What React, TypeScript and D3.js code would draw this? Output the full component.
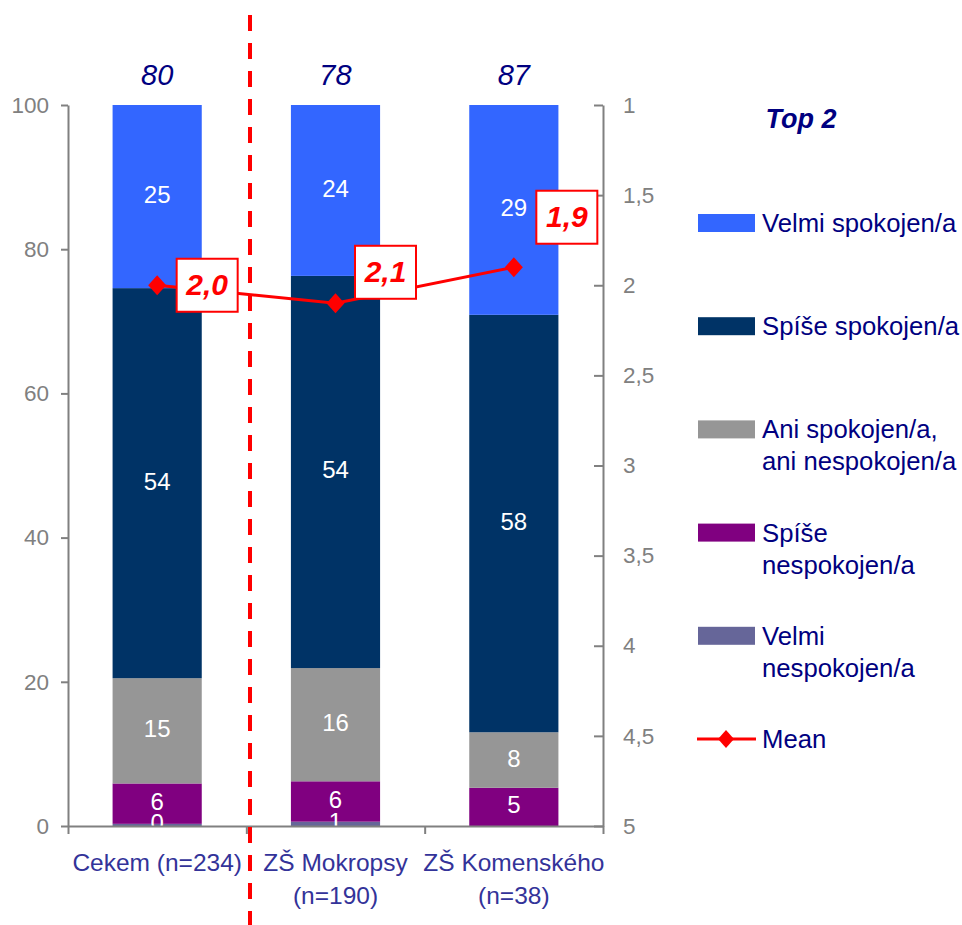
import React, { useEffect, useRef } from 'react';
import * as d3 from 'd3';

const WIDTH = 962;
const HEIGHT = 925;
const FONT = '"Liberation Sans", Arial, sans-serif';

// plot frame
const X0 = 68;
const X1 = 603;
const Y_TOP = 105;
const Y_BOT = 826;

// categories (one entry per line of the axis label)
const categories = [['Cekem (n=234)'], ['ZŠ Mokropsy', '(n=190)'], ['ZŠ Komenského', '(n=38)']];

// series, bottom of the stack first
const velmiNespokojen = [0.3, 0.6, 0];
const spiseNespokojen = [5.6, 5.6, 5.3];
const aniAni = [14.6, 15.7, 7.7];
const spiseSpokojen = [54.1, 54.4, 57.9];
const velmiSpokojen = [25.4, 23.7, 29.1];

const top2 = [80, 78, 87];
const means = [2.0, 2.1, 1.9];

const leftTicks = [0, 20, 40, 60, 80, 100];
const rightTicks = [1, 1.5, 2, 2.5, 3, 3.5, 4, 4.5, 5];

const seriesKeys = ['vn', 'sn', 'an', 'ss', 'vs'];
const seriesValues = [velmiNespokojen, spiseNespokojen, aniAni, spiseSpokojen, velmiSpokojen];
const seriesColors = ['#666699', '#800080', '#969696', '#003366', '#3366FF'];
const seriesLegend = [
  ['Velmi', 'nespokojen/a'],
  ['Spíše', 'nespokojen/a'],
  ['Ani spokojen/a,', 'ani nespokojen/a'],
  ['Spíše spokojen/a'],
  ['Velmi spokojen/a'],
];

// where the mean value boxes sit, relative to their marker
const meanLabelShift = [
  [50, 0],
  [50, -31],
  [53, -50],
];

const fmt = (d: number | string) => String(d).replace('.', ',');

const App = () => {
  const $left = useRef<SVGGElement>(null);
  const $right = useRef<SVGGElement>(null);
  const $bottom = useRef<SVGGElement>(null);

  const x = d3
    .scaleBand<number>()
    .domain(d3.range(categories.length))
    .range([X0, X1])
    .paddingInner(0.5)
    .paddingOuter(0.25);
  const y = d3.scaleLinear().domain([0, 100]).range([Y_BOT, Y_TOP]);
  const yMean = d3.scaleLinear().domain([1, 5]).range([Y_TOP, Y_BOT]);
  const xEdge = d3.scaleLinear().domain([0, categories.length]).range([X0, X1]);
  const cx = (i: number) => (x(i) as number) + x.bandwidth() / 2;

  const rows = categories.map((c, i) => {
    const r: any = { i };
    seriesKeys.forEach((k, j) => (r[k] = seriesValues[j][i]));
    return r;
  });
  const stacked = d3.stack().keys(seriesKeys)(rows);

  const line = d3
    .line<number>()
    .x((d, i) => cx(i))
    .y((d) => yMean(d));

  useEffect(() => {
    const style = (g: any) => {
      g.selectAll('path, line').attr('stroke', '#808080').attr('stroke-width', 2);
      g.selectAll('text')
        .attr('fill', '#808080')
        .style('font-size', '22.5px')
        .style('font-family', FONT);
    };
    const l = d3.select($left.current);
    l.selectAll('*').remove();
    l.call(d3.axisLeft(y).tickValues(leftTicks).tickSize(7).tickSizeOuter(0).tickPadding(12) as any);
    style(l);

    const r = d3.select($right.current);
    r.selectAll('*').remove();
    r.call(
      d3
        .axisRight(yMean)
        .tickValues(rightTicks)
        .tickSize(-9)
        .tickSizeOuter(0)
        .tickPadding(20)
        .tickFormat((d: any) => fmt(d)) as any
    );
    style(r);

    const b = d3.select($bottom.current);
    b.selectAll('*').remove();
    b.call(
      d3
        .axisBottom(xEdge)
        .tickValues(d3.range(categories.length + 1))
        .tickSize(8)
        .tickSizeOuter(0)
        .tickFormat('' as any) as any
    );
    style(b);
  }, []);

  const legendY = (i: number) => 223 + i * 103.2;

  return (
    <svg
      width={WIDTH}
      height={HEIGHT}
      viewBox={`0 0 ${WIDTH} ${HEIGHT}`}
      style={{ position: 'absolute', left: 0, top: 0, background: '#fff' }}
      fontFamily={FONT}
    >
      <defs>
        <clipPath id="plot">
          <rect x={X0} y={Y_TOP} width={X1 - X0} height={Y_BOT - Y_TOP} />
        </clipPath>
      </defs>

      {/* bars */}
      {stacked.map((s, j) => (
        <g key={s.key} fill={seriesColors[j]}>
          {s.map((d, i) => (
            <rect key={i} x={x(i)} width={x.bandwidth()} y={y(d[1])} height={y(d[0]) - y(d[1])} />
          ))}
        </g>
      ))}

      {/* bar value labels */}
      <g clipPath="url(#plot)" fill="#fff" fontSize={24} textAnchor="middle">
        {stacked.map((s) =>
          s.map((d, i) => {
            const v = d[1] - d[0];
            if (v <= 0) return null;
            return (
              <text key={s.key + i} x={cx(i)} y={(y(d[0]) + y(d[1])) / 2 - 2} dominantBaseline="central">
                {Math.round(v)}
              </text>
            );
          })
        )}
      </g>

      <g ref={$left} transform={`translate(${X0},0)`} />
      <g ref={$right} transform={`translate(${X1},0)`} />
      <g ref={$bottom} transform={`translate(0,${Y_BOT})`} />

      {/* category labels */}
      <g fill="#333399" fontSize={24.5} textAnchor="middle">
        {categories.map((c, i) => (
          <text key={i} x={cx(i)} y={871}>
            {c.map((t, k) => (
              <tspan key={k} x={cx(i)} dy={k === 0 ? 0 : 33}>
                {t}
              </tspan>
            ))}
          </text>
        ))}
      </g>

      {/* top 2 values */}
      <g fill="#000080" fontSize={29} fontStyle="italic" textAnchor="middle">
        {top2.map((v, i) => (
          <text key={i} x={cx(i)} y={75} dominantBaseline="central">
            {v}
          </text>
        ))}
      </g>

      {/* mean line */}
      <path d={line(means) || ''} stroke="#FF0000" strokeWidth={3} fill="none" />
      {means.map((m, i) => (
        <path key={i} transform={`translate(${cx(i)},${yMean(m)})`} d="M0,-10L9,0L0,10L-9,0Z" fill="#FF0000" />
      ))}

      {/* separator */}
      <line x1={250} x2={250} y1={15} y2={HEIGHT} stroke="#FF0000" strokeWidth={4} strokeDasharray="16 12" />

      {/* mean labels */}
      {means.map((m, i) => (
        <g
          key={i}
          transform={`translate(${cx(i) + meanLabelShift[i][0]},${yMean(m) + meanLabelShift[i][1]})`}
        >
          <rect x={-30.5} y={-26.5} width={61} height={53} fill="#fff" stroke="#FF0000" strokeWidth={2} />
          <text
            textAnchor="middle"
            dominantBaseline="central"
            fill="#FF0000"
            fontSize={30}
            fontWeight="bold"
            fontStyle="italic"
            y={-1}
          >
            {fmt(m.toFixed(1))}
          </text>
        </g>
      ))}

      {/* legend */}
      <text
        x={801}
        y={119}
        textAnchor="middle"
        dominantBaseline="central"
        fill="#000080"
        fontSize={27}
        fontWeight="bold"
        fontStyle="italic"
      >
        Top 2
      </text>
      <g fontSize={25.7} fill="#000080">
        {seriesKeys
          .map((k, j) => j)
          .reverse()
          .map((j, i) => (
            <g key={j} transform={`translate(0,${legendY(i)})`}>
              <rect x={698} y={-9} width={57} height={18} fill={seriesColors[j]} />
              <text x={762} y={9}>
                {seriesLegend[j].map((t, k) => (
                  <tspan key={k} x={762} dy={k === 0 ? 0 : 32}>
                    {t}
                  </tspan>
                ))}
              </text>
            </g>
          ))}
        <g transform={`translate(0,${legendY(5)})`}>
          <line x1={697} x2={756} y1={0} y2={0} stroke="#FF0000" strokeWidth={3} />
          <path transform="translate(726,0)" d="M0,-9L8,0L0,9L-8,0Z" fill="#FF0000" />
          <text x={762} y={9}>
            Mean
          </text>
        </g>
      </g>
    </svg>
  );
};

export default App;
